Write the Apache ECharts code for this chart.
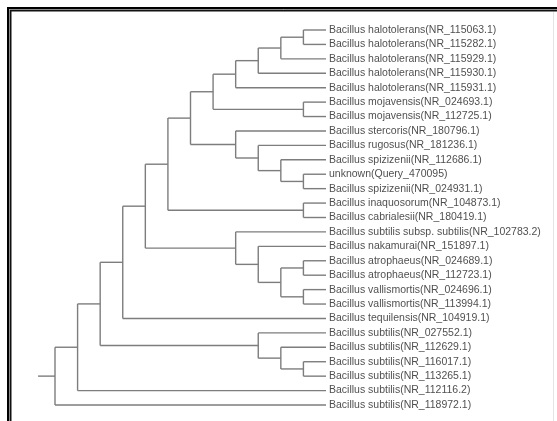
<!DOCTYPE html>
<html>
<head>
<meta charset="utf-8">
<script src="https://cdn.jsdelivr.net/npm/echarts@6/dist/echarts.min.js"></script>
<style>
html,body{margin:0;padding:0;background:#fff;}
#chart{width:557px;height:421px;}
</style>
</head>
<body>
<div id="chart"></div>
<script>
// Leaf labels, top to bottom
const leafNames = [
  'Bacillus halotolerans(NR_115063.1)',
  'Bacillus halotolerans(NR_115282.1)',
  'Bacillus halotolerans(NR_115929.1)',
  'Bacillus halotolerans(NR_115930.1)',
  'Bacillus halotolerans(NR_115931.1)',
  'Bacillus mojavensis(NR_024693.1)',
  'Bacillus mojavensis(NR_112725.1)',
  'Bacillus stercoris(NR_180796.1)',
  'Bacillus rugosus(NR_181236.1)',
  'Bacillus spizizenii(NR_112686.1)',
  'unknown(Query_470095)',
  'Bacillus spizizenii(NR_024931.1)',
  'Bacillus inaquosorum(NR_104873.1)',
  'Bacillus cabrialesii(NR_180419.1)',
  'Bacillus subtilis subsp. subtilis(NR_102783.2)',
  'Bacillus nakamurai(NR_151897.1)',
  'Bacillus atrophaeus(NR_024689.1)',
  'Bacillus atrophaeus(NR_112723.1)',
  'Bacillus vallismortis(NR_024696.1)',
  'Bacillus vallismortis(NR_113994.1)',
  'Bacillus tequilensis(NR_104919.1)',
  'Bacillus subtilis(NR_027552.1)',
  'Bacillus subtilis(NR_112629.1)',
  'Bacillus subtilis(NR_116017.1)',
  'Bacillus subtilis(NR_113265.1)',
  'Bacillus subtilis(NR_112116.2)',
  'Bacillus subtilis(NR_118972.1)'
];

// Topology (leaf indices), built from named clades
const cladeHalo = [[[[0, 1], 2], 3], 4];
const cladeMoja = [5, 6];
const cladeSpiz = [7, [8, [9, [10, 11]]]];
const cladeInaq = [12, 13];
const cladeAtro = [14, [15, [[16, 17], [18, 19]]]];
const cladeSubt = [21, [22, [23, 24]]];
const cladeF = [cladeHalo, cladeMoja];
const cladeG = [cladeF, cladeSpiz];
const cladeU = [cladeG, cladeInaq];
const cladeV = [cladeU, cladeAtro];
const cladeW = [cladeV, 20];
const cladeX = [cladeW, cladeSubt];
const cladeY = [cladeX, 25];
const topology = [cladeY, 26];

// layout computation (cladogram, leaves aligned)
function height(n) { return Array.isArray(n) ? 1 + Math.max(...n.map(height)) : 0; }
const maxH = height(topology);
const segments = [];
function layout(n) {
  if (!Array.isArray(n)) return { x: maxH, y: n };
  const kids = n.map(layout);
  const x = maxH - height(n);
  const ys = kids.map(k => k.y);
  const y0 = Math.min(...ys), y1 = Math.max(...ys);
  segments.push([x, y0, x, y1]);
  kids.forEach(k => segments.push([x, k.y, k.x, k.y]));
  return { x: x, y: (y0 + y1) / 2 };
}
const rootPos = layout(topology);
segments.push([-0.75, rootPos.y, 0, rootPos.y]);

const leafData = leafNames.map((name, i) => [maxH, i, name]);

const chart = echarts.init(document.getElementById('chart'), null, { renderer: 'canvas' });
chart.setOption({
  animation: false,
  backgroundColor: '#fff',
  grid: { left: 55, top: 30, width: 271, height: 375 },
  xAxis: { type: 'value', min: 0, max: maxH, show: false },
  yAxis: { type: 'value', min: 0, max: leafNames.length - 1, inverse: true, show: false },
  graphic: [
    { type: 'rect', shape: { x: 8, y: 8, width: 700, height: 600 }, style: { fill: 'none', stroke: '#000', lineWidth: 2 }, silent: true },
    { type: 'rect', shape: { x: 9.5, y: 9.5, width: 700, height: 600 }, style: { fill: 'none', stroke: '#8a8a8a', lineWidth: 1 }, silent: true },
    { type: 'rect', shape: { x: 10.75, y: 10.75, width: 700, height: 600 }, style: { fill: 'none', stroke: '#111', lineWidth: 1.5 }, silent: true },
    { type: 'line', shape: { x1: 553.5, y1: 12, x2: 553.5, y2: 421 }, style: { stroke: '#e4e4e4', lineWidth: 1 }, silent: true }
  ],
  series: [
    {
      type: 'custom',
      data: segments,
      encode: { x: [0, 2], y: [1, 3] },
      silent: true,
      renderItem: function (params, api) {
        const p1 = api.coord([api.value(0), api.value(1)]);
        const p2 = api.coord([api.value(2), api.value(3)]);
        return {
          type: 'line',
          shape: { x1: p1[0], y1: p1[1], x2: p2[0], y2: p2[1] },
          style: { stroke: '#7d7d7d', lineWidth: 1.4 }
        };
      }
    },
    {
      type: 'scatter',
      data: leafData,
      symbolSize: 0,
      silent: true,
      label: {
        show: true,
        position: 'right',
        distance: 3,
        formatter: p => p.data[2],
        fontFamily: '"Liberation Sans", Arial, sans-serif',
        fontSize: 10.5,
        color: '#222'
      }
    }
  ]
});
</script>
</body>
</html>
